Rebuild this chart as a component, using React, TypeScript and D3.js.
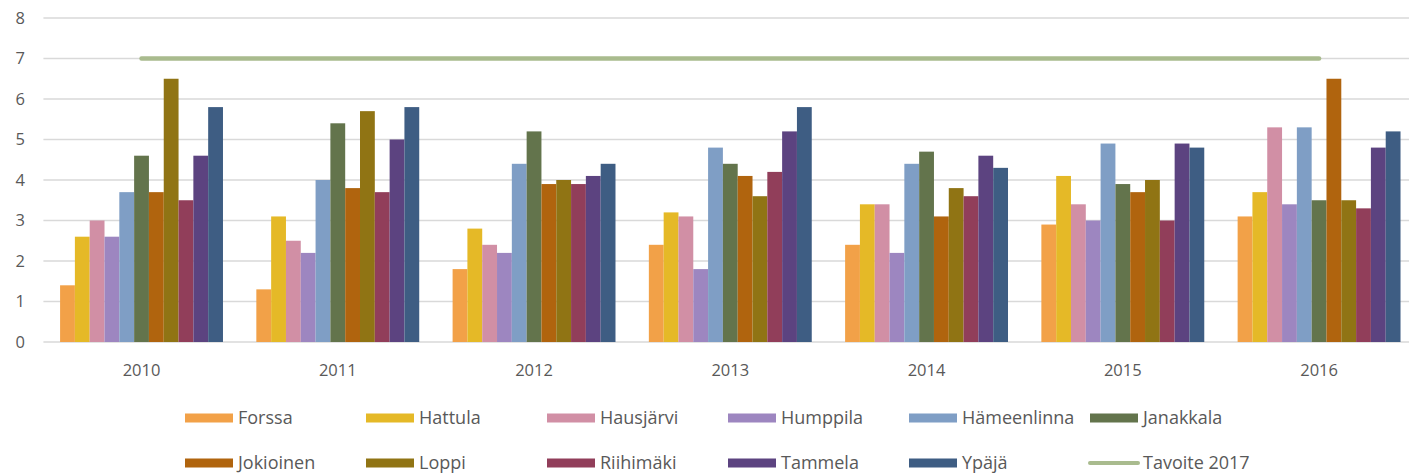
import React from "react";
import * as d3 from "d3";

const years = ["2010", "2011", "2012", "2013", "2014", "2015", "2016"];
const municipalities = [
  "Forssa", "Hattula", "Hausjärvi", "Humppila", "Hämeenlinna", "Janakkala",
  "Jokioinen", "Loppi", "Riihimäki", "Tammela", "Ypäjä",
];
const colors = [
  "#f2a148", "#e5b927", "#d18fa5", "#9d86c0", "#7f9ec5", "#63744c",
  "#b0640e", "#907414", "#913e5a", "#5c4380", "#3e5d83",
];
// one array per municipality, values for 2010..2016
const forssa = [1.4, 1.3, 1.8, 2.4, 2.4, 2.9, 3.1];
const hattula = [2.6, 3.1, 2.8, 3.2, 3.4, 4.1, 3.7];
const hausjarvi = [3.0, 2.5, 2.4, 3.1, 3.4, 3.4, 5.3];
const humppila = [2.6, 2.2, 2.2, 1.8, 2.2, 3.0, 3.4];
const hameenlinna = [3.7, 4.0, 4.4, 4.8, 4.4, 4.9, 5.3];
const janakkala = [4.6, 5.4, 5.2, 4.4, 4.7, 3.9, 3.5];
const jokioinen = [3.7, 3.8, 3.9, 4.1, 3.1, 3.7, 6.5];
const loppi = [6.5, 5.7, 4.0, 3.6, 3.8, 4.0, 3.5];
const riihimaki = [3.5, 3.7, 3.9, 4.2, 3.6, 3.0, 3.3];
const tammela = [4.6, 5.0, 4.1, 5.2, 4.6, 4.9, 4.8];
const ypaja = [5.8, 5.8, 4.4, 5.8, 4.3, 4.8, 5.2];
const target = [7, 7, 7, 7, 7, 7, 7];
const targetLabel = "Tavoite 2017";
const yTicks = [0, 1, 2, 3, 4, 5, 6, 7, 8];

const series = [forssa, hattula, hausjarvi, humppila, hameenlinna, janakkala,
  jokioinen, loppi, riihimaki, tammela, ypaja];

const W = 1409;
const H = 474;
const left = 43.4;
const right = 1417.2;
const top = 18;
const bottom = 342;
const font = "'Open Sans', 'Liberation Sans', sans-serif";
const textColor = "#595959";

export default function App() {
  const x0 = d3.scaleBand<string>().domain(years).range([left, right]).padding(0);
  const step = x0.bandwidth();
  const x1 = d3
    .scaleBand<string>()
    .domain(municipalities)
    .range([step * 0.085, step * 0.915])
    .padding(0);
  const y = d3.scaleLinear().domain([0, 8]).range([bottom, top]);

  const line = d3
    .line<number>()
    .x((_, i) => (x0(years[i]) as number) + step / 2)
    .y((d) => y(d));

  // legend: 6 columns, 2 rows
  const legendItems = [...municipalities.map((m, i) => ({ name: m, color: colors[i], line: false })),
    { name: targetLabel, color: "#a9bb8e", line: true }];
  const colX = d3.scaleLinear().domain([0, 1]).range([185, 366]);
  const rowY = [418, 463];

  return (
    <svg width={W} height={H} style={{ position: "absolute", left: 0, top: 0, background: "#fff" }}>
      {yTicks.map((t) => (
        <g key={t}>
          <line x1={left} x2={right} y1={y(t)} y2={y(t)} stroke="#d9d9d9" strokeWidth={1.5} />
          <text x={25} y={y(t)} dy="0.35em" textAnchor="end" fontFamily={font} fontSize={16.5} fill={textColor}>
            {t}
          </text>
        </g>
      ))}
      {years.map((yr, yi) => (
        <g key={yr} transform={`translate(${x0(yr)},0)`}>
          {series.map((s, si) => (
            <rect
              key={si}
              x={x1(municipalities[si])}
              y={y(s[yi])}
              width={x1.bandwidth()}
              height={y(0) - y(s[yi])}
              fill={colors[si]}
            />
          ))}
          <text x={step / 2} y={376} textAnchor="middle" fontFamily={font} fontSize={16.5} fill={textColor}>
            {yr}
          </text>
        </g>
      ))}
      <path d={line(target) || ""} fill="none" stroke="#a9bb8e" strokeWidth={4.5} strokeLinecap="round" />
      {legendItems.map((it, i) => {
        const cx = colX(i % 6);
        const cy = rowY[Math.floor(i / 6)];
        return (
          <g key={it.name}>
            {it.line ? (
              <line x1={cx} x2={cx + 48} y1={cy} y2={cy} stroke={it.color} strokeWidth={4} strokeLinecap="round" />
            ) : (
              <rect x={cx} y={cy - 4.5} width={48} height={9} fill={it.color} />
            )}
            <text x={cx + 53} y={cy} dy="0.35em" fontFamily={font} fontSize={18} fill={textColor}>
              {it.name}
            </text>
          </g>
        );
      })}
    </svg>
  );
}
